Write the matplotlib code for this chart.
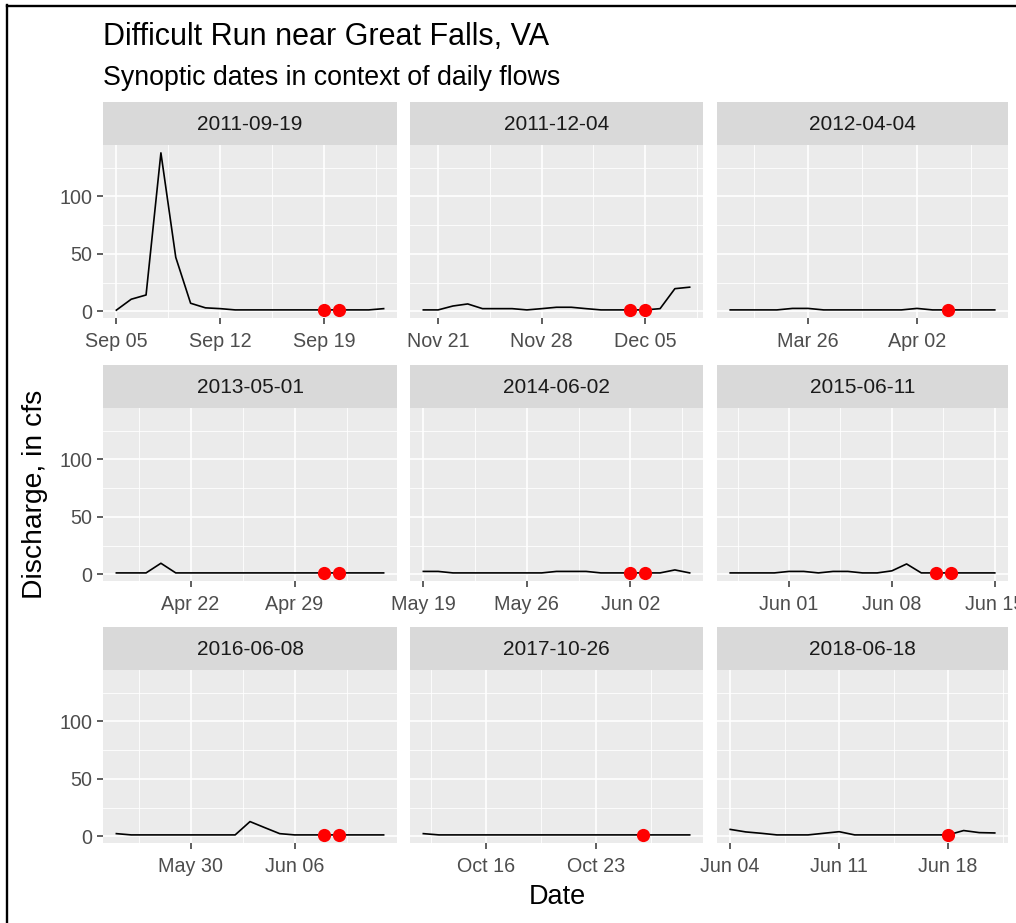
#  Importing libraries
import numpy as np
import pandas as pd
import matplotlib
matplotlib.use('Agg')
import matplotlib.pyplot as plt
import matplotlib.dates as mdates
from matplotlib.lines import Line2D

plt.rcParams['font.family'] = ['Liberation Sans', 'DejaVu Sans']

#  Data (daily discharge, cfs)
synoptic_dates = ['2011-09-19', '2011-12-04', '2012-04-04',
                  '2013-05-01', '2014-06-02', '2015-06-11',
                  '2016-06-08', '2017-10-26', '2018-06-18']
start_dates = ['2011-09-05', '2011-11-20', '2012-03-21',
               '2013-04-17', '2014-05-19', '2015-05-28',
               '2016-05-25', '2017-10-12', '2018-06-04']

flow_2011_09_19 = [1.0, 10.5, 14.2, 138, 47, 7, 3, 2.3, 1.2, 1.2,
                   1.2, 1.2, 1.2, 1.2, 1.2, 1.2, 1.2, 1.2, 2.3]
flow_2011_12_04 = [1.2, 1.2, 4.6, 6.4, 2.3, 2.3, 2.3, 1.2, 2.3, 3.5,
                   3.5, 2.3, 1.2, 1.2, 1.2, 1.2, 2.3, 19.7, 21]
flow_2012_04_04 = [1.2, 1.2, 1.2, 1.2, 2.5, 2.5, 1.2, 1.2, 1.2, 1.2,
                   1.2, 1.2, 2.5, 1.2, 1.2, 1.2, 1.2, 1.2]
flow_2013_05_01 = [1.2, 1.2, 1.2, 9.6, 1.2, 1.2, 1.2, 1.2, 1.2, 1.2,
                   1.2, 1.2, 1.2, 1.2, 1.2, 1.2, 1.2, 1.2, 1.2]
flow_2014_06_02 = [2.5, 2.5, 1.2, 1.2, 1.2, 1.2, 1.2, 1.2, 1.2, 2.5,
                   2.5, 2.5, 1.2, 1.2, 1.2, 1.2, 1.2, 3.8, 1.2]
flow_2015_06_11 = [1.2, 1.2, 1.2, 1.2, 2.5, 2.5, 1.2, 2.5, 2.5, 1.2,
                   1.2, 3.0, 9.0, 1.2, 1.2, 1.2, 1.2, 1.2, 1.2]
flow_2016_06_08 = [2.3, 1.2, 1.2, 1.2, 1.2, 1.2, 1.2, 1.2, 1.2, 12.8,
                   7.5, 2.3, 1.2, 1.2, 1.2, 1.2, 1.2, 1.2, 1.2]
flow_2017_10_26 = [2.3, 1.2, 1.2, 1.2, 1.2, 1.2, 1.2, 1.2, 1.2, 1.2,
                   1.2, 1.2, 1.2, 1.2, 1.2, 1.2, 1.2, 1.2]
flow_2018_06_18 = [6.0, 3.8, 2.6, 1.2, 1.2, 1.2, 2.6, 4.0, 1.2, 1.2,
                   1.2, 1.2, 1.2, 1.2, 1.2, 5.0, 3.2, 2.9]

flows = [flow_2011_09_19, flow_2011_12_04, flow_2012_04_04,
         flow_2013_05_01, flow_2014_06_02, flow_2015_06_11,
         flow_2016_06_08, flow_2017_10_26, flow_2018_06_18]

#  Red points: sampled dates shown in each panel
point_dates = [['2011-09-19', '2011-09-20'], ['2011-12-04', '2011-12-05'],
               ['2012-04-04'], ['2013-05-01', '2013-05-02'],
               ['2014-06-02', '2014-06-03'], ['2015-06-11', '2015-06-12'],
               ['2016-06-08', '2016-06-09'], ['2017-10-26'], ['2018-06-18']]

#  Layout (pixels of the 1016x923 picture)
W, H = 1016, 923
col_left = [103, 410, 717]
col_w = [294, 293, 291]
row_top = [102, 365, 627]
strip_h = 43
panel_h = 173


def rect(left, top, width, height):
    return [left / W, 1 - (top + height) / H, width / W, height / H]


fig = plt.figure(figsize=(W / 100, H / 100), dpi=100)

all_vals = np.concatenate([np.array(f) for f in flows])
lo, hi = all_vals.min(), all_vals.max()
ypad = 0.05 * (hi - lo)

for i in range(9):
    r, c = i // 3, i % 3
    dates = pd.date_range(start_dates[i], periods=len(flows[i]), freq='D')
    series = pd.Series(flows[i], index=dates)
    x = mdates.date2num(dates.to_pydatetime())

    # strip
    sax = fig.add_axes(rect(col_left[c], row_top[r], col_w[c], strip_h))
    sax.set_facecolor('#D9D9D9')
    sax.set_xticks([])
    sax.set_yticks([])
    for s in sax.spines.values():
        s.set_visible(False)
    sax.text(0.5, 0.47, synoptic_dates[i], ha='center', va='center',
             fontsize=15, color='#1A1A1A', transform=sax.transAxes)

    ax = fig.add_axes(rect(col_left[c], row_top[r] + strip_h, col_w[c], panel_h))
    ax.set_facecolor('#EBEBEB')
    for s in ax.spines.values():
        s.set_visible(False)

    xr = x[-1] - x[0]
    xlo, xhi = x[0] - 0.05 * xr, x[-1] + 0.05 * xr
    ax.set_xlim(xlo, xhi)
    ax.set_ylim(lo - ypad, hi + ypad)

    mondays = pd.date_range(dates[0] - pd.Timedelta(days=14),
                            dates[-1] + pd.Timedelta(days=14), freq='W-MON')
    mnum = mdates.date2num(mondays.to_pydatetime())
    major = [m for m in mnum if xlo <= m <= xhi]
    minor = [m + 3.5 for m in mnum if xlo <= m + 3.5 <= xhi]
    ax.set_xticks(major)
    ax.set_xticks(minor, minor=True)
    ax.xaxis.set_major_formatter(mdates.DateFormatter('%b %d'))

    ax.set_yticks([0, 50, 100])
    ax.set_yticks([25, 75, 125], minor=True)

    ax.grid(which='major', color='white', linewidth=1.2)
    ax.grid(which='minor', color='white', linewidth=0.6)
    ax.set_axisbelow(True)

    ax.tick_params(axis='x', which='major', length=4.5, width=1.1, color='#333333',
                   labelsize=14.2, labelcolor='#4D4D4D', pad=5.5)
    ax.tick_params(axis='both', which='minor', length=0)
    if c == 0:
        ax.tick_params(axis='y', which='major', length=4, width=1.1, color='#333333',
                       labelsize=14.2, labelcolor='#4D4D4D', pad=3.5)
    else:
        ax.tick_params(axis='y', which='major', length=0, labelleft=False)

    ax.plot(x, flows[i], color='black', linewidth=1.2)
    pd_dates = pd.to_datetime(point_dates[i])
    ax.plot(mdates.date2num(pd_dates.to_pydatetime()), series.loc[pd_dates].values,
            'o', color='red', markersize=9.5, markeredgewidth=0)

#  Titles
fig.text(103 / W, 1 - 45 / H, 'Difficult Run near Great Falls, VA',
         fontsize=22, color='black', va='baseline', ha='left')
fig.text(103 / W, 1 - 85 / H, 'Synoptic dates in context of daily flows',
         fontsize=19.3, color='black', va='baseline', ha='left')
fig.text(35 / W, 1 - 494 / H, 'Discharge, in cfs', rotation=90,
         fontsize=20.3, color='black', va='center', ha='center')
fig.text(557 / W, 1 - 897 / H, 'Date',
         fontsize=19.5, color='black', va='center', ha='center')

#  Frame lines of the screenshot
fig.add_artist(Line2D([7 / W, 7 / W], [0, 1 - 5 / H], color='black',
                      linewidth=1.7, transform=fig.transFigure))
fig.add_artist(Line2D([7 / W, 1], [1 - 5.5 / H, 1 - 5.5 / H], color='black',
                      linewidth=1.7, transform=fig.transFigure))

plt.savefig('out.png', dpi=100)
